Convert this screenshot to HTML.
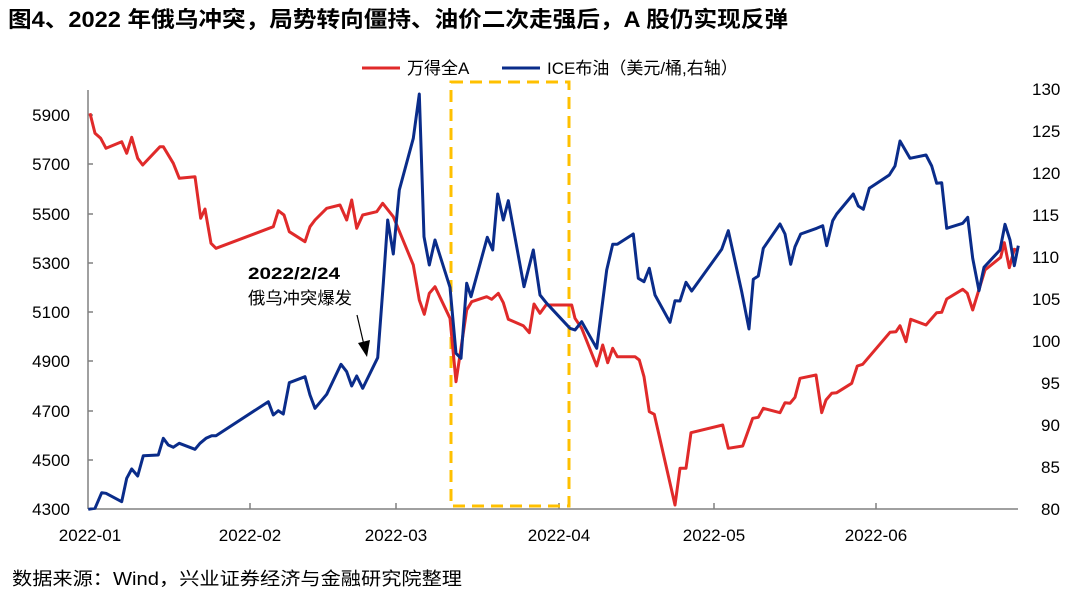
<!DOCTYPE html>
<html><head><meta charset="utf-8"><style>
body{margin:0;background:#fff;}
svg{display:block;font-family:"Liberation Sans","Noto Sans CJK SC",sans-serif;}
</style></head><body>
<svg width="1080" height="595" viewBox="0 0 1080 595">
<text x="8" y="27" font-size="22" font-weight="bold" fill="#000" textLength="780" lengthAdjust="spacingAndGlyphs">图4、2022 年俄乌冲突，局势转向僵持、油价二次走强后，A 股仍实现反弹</text>
<line x1="362" y1="68" x2="400" y2="68" stroke="#E02A2A" stroke-width="3"/>
<text x="407" y="74" font-size="17">万得全A</text>
<line x1="502" y1="68" x2="540" y2="68" stroke="#0A2C8A" stroke-width="3"/>
<text x="547" y="74" font-size="17">ICE布油（美元/桶,右轴）</text>
<g stroke="#808080" stroke-width="1.5" fill="none">
<line x1="88" y1="90" x2="88" y2="509"/>
<line x1="88" y1="509" x2="1018" y2="509"/>
<line x1="88" y1="115" x2="93" y2="115"/><line x1="88" y1="164" x2="93" y2="164"/><line x1="88" y1="214" x2="93" y2="214"/><line x1="88" y1="263" x2="93" y2="263"/><line x1="88" y1="312" x2="93" y2="312"/><line x1="88" y1="361" x2="93" y2="361"/><line x1="88" y1="411" x2="93" y2="411"/><line x1="88" y1="460" x2="93" y2="460"/>
<line x1="250" y1="509" x2="250" y2="503"/><line x1="396" y1="509" x2="396" y2="503"/><line x1="559" y1="509" x2="559" y2="503"/><line x1="714" y1="509" x2="714" y2="503"/><line x1="876" y1="509" x2="876" y2="503"/>
</g>
<g font-size="17" fill="#000" text-anchor="end">
<text x="70" y="121">5900</text><text x="70" y="170">5700</text><text x="70" y="220">5500</text><text x="70" y="269">5300</text><text x="70" y="318">5100</text><text x="70" y="367">4900</text><text x="70" y="417">4700</text><text x="70" y="466">4500</text><text x="70" y="515">4300</text>
</g>
<g font-size="17" fill="#000">
<text x="1032" y="95">130</text><text x="1032" y="137">125</text><text x="1032" y="179">120</text><text x="1032" y="221">115</text><text x="1032" y="263">110</text><text x="1032" y="305">105</text><text x="1032" y="347">100</text><text x="1041" y="389">95</text><text x="1041" y="431">90</text><text x="1041" y="473">85</text><text x="1041" y="515">80</text>
</g>
<g font-size="17" fill="#000" text-anchor="middle">
<text x="90" y="541">2022-01</text><text x="250" y="541">2022-02</text><text x="396" y="541">2022-03</text><text x="559" y="541">2022-04</text><text x="714" y="541">2022-05</text><text x="876" y="541">2022-06</text>
</g>
<rect x="451" y="82" width="118" height="424" fill="none" stroke="#FFC000" stroke-width="3" stroke-dasharray="12,7"/>
<polyline fill="none" stroke="#E02A2A" stroke-width="3" stroke-linejoin="round" points="90,113.3 95,133.3 100.7,138.3 106,148.3 121.7,141.7 126.7,153.3 131.7,137.3 137.7,158.3 142.7,165 160,146.7 163.3,146.7 173.3,163.3 179.3,178.3 195,176.7 200.7,218.3 205,209 211,243.3 216,248.3 273.3,226.7 278.3,210.7 284,215 289.3,231.7 305,241.7 310,226.7 315,220 326.7,208.3 340,205 346.7,220 351.7,200 356.7,228.3 362.7,215 376.7,211.7 382.7,203.3 393.3,216.7 413.3,265 419.3,300 424.3,314.3 429.3,293.3 435,286.7 450,318.3 456,381.7 466.7,310 471.7,301.7 486.7,296.7 491.7,299.3 498.3,293.3 503.3,302.7 508.3,319.3 523.3,325.7 529.3,332.7 534,304 540,313.3 546,305 560,305 571.7,305 575,318.3 581.7,328.3 596.7,366 602.7,345 607.7,362.7 612.7,348.3 617.3,356.7 635,356.7 639.3,360 644,376.7 649.3,411.7 654.3,414.3 675,505 680,468.3 686,468.3 691,432.7 722.7,425 728.3,448.3 742.7,446 752.7,418.3 758.3,417.3 763.3,408.3 780,412.7 785,402.7 790,403.3 795,397.3 800,378.3 816,375 821.7,412.7 826,400 831.7,393.3 836.7,392.7 851.7,383.3 857.3,366 862.7,364.3 890,332.3 896,331.7 900,325.7 906,341.7 910.7,319.3 926,325 936.7,312.7 941.7,312.3 946.7,299 962.7,289.3 967.3,293.3 972.7,310 985,270 1000.7,257.3 1004.3,242.7 1009.3,267.7 1014.3,249.3 1018.3,250.7"/>
<polyline fill="none" stroke="#0A2C8A" stroke-width="3" stroke-linejoin="round" points="88.3,509.3 95,508.3 101.7,492.7 106,493.3 121.7,501.7 126.7,478.3 131.7,469 137.7,476 143.3,455.7 158.3,455 163.3,438.3 168.3,445 173.3,447.3 179.3,443.3 195,449.3 200,443.3 206,438.3 211.7,435.7 216,435.7 268.3,401.7 273.3,415 278.3,410.7 283.3,414 289.3,382.7 305,376.7 310,395 315,408.3 326.7,394.3 341,364.3 346.7,371.7 351.7,386 356.7,376 362.7,388.3 377.7,357.7 383.3,283.3 387.7,220 393.3,254 399.3,190 413.3,138.3 419.3,94 424,236.7 429.3,265 435,240 450,287.3 456,353.3 461,358.3 466.7,283.3 471,296.7 487.3,237.3 492.7,250 497.7,194 503.3,220 508.3,200.7 524,286.7 533.3,250 540,295 546.7,303.3 570,328.3 575,330 581.7,321.7 596.7,348.3 606.7,270 612.7,244.3 617.3,244.3 633.3,234 638.3,278.3 644,281.7 649.3,268.3 655,295 670,322.3 675,300.7 680,301 686,282.3 691.7,291 721.7,249.3 728.3,230.7 741.7,291.7 749,329 753.3,279.3 758.3,276 763.3,248.3 780,224 785,234 790.7,264.3 795,246.7 800.7,234 816.7,228.3 822.7,225.7 826.7,245.7 832.7,220.7 836.7,214 853.3,194 858.3,206 863.3,209.3 869.3,188.3 889.3,175 895,166 900,141 910,158.3 926,155 931.7,166 936.7,183.3 941.7,182.7 946.7,228.3 962.7,223.3 967.7,217.3 972.7,258.3 979,290.7 984,267.3 1000,250 1005,224.3 1010,240 1014.3,265.7 1018.3,245.7"/>
<text x="248" y="279" font-size="17" font-weight="bold" textLength="92" lengthAdjust="spacingAndGlyphs">2022/2/24</text>
<text x="248" y="304" font-size="17" textLength="104" lengthAdjust="spacingAndGlyphs">俄乌冲突爆发</text>
<line x1="357" y1="315" x2="364" y2="345" stroke="#000" stroke-width="1.2"/>
<polygon points="358,343 370,340 367,357" fill="#000"/>
<text x="12" y="585" font-size="18" fill="#000" textLength="450" lengthAdjust="spacingAndGlyphs">数据来源：Wind，兴业证券经济与金融研究院整理</text>
</svg>
</body></html>
